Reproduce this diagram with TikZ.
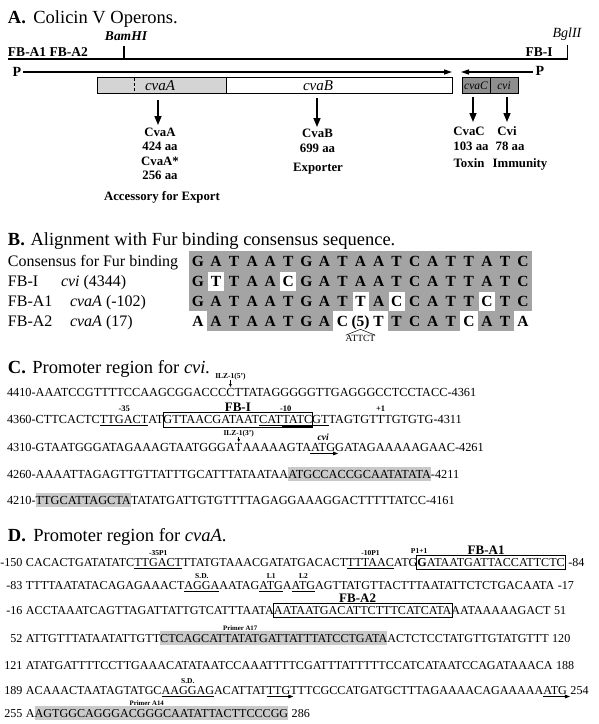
\documentclass[tikz,border=0pt]{standalone}
\usepackage{fontspec}
\setmainfont{Liberation Serif}
\usetikzlibrary{arrows.meta,calc}
\definecolor{boxA}{HTML}{D4D4D4}
\definecolor{boxC}{HTML}{8E8E8E}
\definecolor{furgrey}{HTML}{A4A4A4}
\definecolor{hlgrey}{HTML}{C9C9C9}
\begin{document}
\begin{tikzpicture}[x=1pt,y=-1pt,
  every node/.style={inner sep=0pt,outer sep=0pt},
  titl/.style={anchor=base west,font=\fontsize{18.5}{20}\selectfont},
  mapbf/.style={font=\bfseries\fontsize{13.5}{15}\selectfont},
  thickline/.style={line width=1.5pt},
  parrow/.style={line width=1.4pt,-{Triangle[length=8pt,width=5pt]}},
  darrow/.style={line width=1.5pt,-{Triangle[length=9pt,width=7pt]}},
  gbox/.style={draw,line width=0.8pt,minimum height=16pt},
  plab/.style={anchor=base,font=\bfseries\fontsize{12.8}{14}\selectfont},
  rowlab/.style={anchor=base west,font=\fontsize{16}{18}\selectfont},
  gl/.style={anchor=base,font=\bfseries\fontsize{15.5}{17}\selectfont},
  sq/.style={anchor=base west,text height=8pt,text depth=0pt},
  sqC/.style={sq,font=\fontsize{12.3}{14}\selectfont},
  sqD/.style={sq,font=\fontsize{12.1}{14}\selectfont},
  hlC/.style={sqC,fill=hlgrey,inner ysep=2pt,text height=9pt,text depth=1pt},
  hlD/.style={sqD,fill=hlgrey,inner ysep=2pt,text height=9pt,text depth=1pt},
  numD/.style={anchor=base east,font=\fontsize{12.1}{14}\selectfont},
  ulpath/.style={line width=0.8pt},
  seqbox/.style={line width=0.8pt},
  labC/.style={anchor=base,font=\bfseries\fontsize{8.5}{10}\selectfont},
  labFB/.style={anchor=base,font=\bfseries\fontsize{13}{14}\selectfont},
  labI/.style={anchor=base,font=\bfseries\fontsize{7.5}{8}\selectfont},
  labS/.style={anchor=base,font=\bfseries\fontsize{7.5}{8}\selectfont},
  labT/.style={anchor=base,font=\bfseries\fontsize{6.8}{8}\selectfont},
  smarrow/.style={line width=0.6pt,-{Triangle[length=3pt,width=2.5pt]}},
  ularrow/.style={line width=0.8pt,-{Triangle[length=5pt,width=3.5pt]}}
]
\useasboundingbox (0,0) rectangle (599,724);
\fill[white] (0,0) rectangle (599,724);

% ---------------- A ----------------
\node[titl] (tA) at (8,23) {\textbf{A.}\hspace{0.4em}Colicin V Operons.};
\node[anchor=base,font=\bfseries\itshape\fontsize{13.5}{15}\selectfont] (bam) at (126,40.5) {BamHI};
\node[mapbf,anchor=base west] (fba) at (8,56) {FB-A1 FB-A2};
\node[mapbf,anchor=base] (fbi) at (539,56) {FB-I};
\node[anchor=base,font=\itshape\fontsize{14}{15}\selectfont] (bgl) at (567,37.5) {BglII};
\coordinate (tl0) at (8,59);
\coordinate (tl1) at (567.5,59);
\coordinate (tl2) at (567.5,45);
\draw[thickline] (tl0) -- (tl1) -- (tl2);
\coordinate (bm0) at (124,59);
\coordinate (bm1) at (124,45.5);
\draw[thickline] (bm0) -- (bm1);
\node[font=\bfseries\fontsize{14}{15}\selectfont] (pl) at (17,71.5) {P};
\coordinate (pl0) at (23,72);
\coordinate (pl1) at (452,72);
\draw[parrow] (pl0) -- (pl1);
\node[font=\bfseries\fontsize{14}{15}\selectfont] (pr) at (540,70.5) {P};
\coordinate (pr0) at (533,72);
\coordinate (pr1) at (461,72);
\draw[parrow] (pr0) -- (pr1);

\node[gbox,fill=boxA,minimum width=129pt] (gA) at (161.5,85.5) {};
\node[gbox,fill=white,minimum width=226pt] (gB) at (339,85.5) {};
\node[gbox,fill=boxC,minimum width=28pt] (gC) at (476,85.5) {};
\node[gbox,fill=boxC,minimum width=28pt] (gI) at (504,85.5) {};
\coordinate (dA0) at (134,78);
\coordinate (dA1) at (134,93);
\draw[densely dashed,line width=0.5pt] (dA0) -- (dA1);
\node[anchor=base,font=\itshape\fontsize{15}{16}\selectfont] (nA) at (160,90.5) {cvaA};
\node[anchor=base,font=\itshape\fontsize{15}{16}\selectfont] (nB) at (318,90.5) {cvaB};
\node[anchor=base,font=\itshape\fontsize{11.5}{12}\selectfont] (nC) at (476,89.5) {cvaC};
\node[anchor=base,font=\itshape\fontsize{11.5}{12}\selectfont] (nI) at (504,89.5) {cvi};

\coordinate (aA0) at (158,100);
\coordinate (aA1) at (158,125);
\coordinate (aB0) at (317,98);
\coordinate (aB1) at (317,127);
\coordinate (aC0) at (473,97);
\coordinate (aC1) at (473,122);
\coordinate (aI0) at (507,97);
\coordinate (aI1) at (507,122);
\draw[darrow] (aA0) -- (aA1);
\draw[darrow] (aB0) -- (aB1);
\draw[darrow] (aC0) -- (aC1);
\draw[darrow] (aI0) -- (aI1);

\node[plab] (pA1) at (160,136.5) {CvaA};
\node[plab] (pA2) at (160,150.5) {424 aa};
\node[plab] (pA3) at (160,165) {CvaA*};
\node[plab] (pA4) at (160,179) {256 aa};
\node[plab] (pA5) at (162,200.5) {Accessory for Export};
\node[plab] (pB1) at (317.5,137.5) {CvaB};
\node[plab] (pB2) at (317.5,152) {699 aa};
\node[plab] (pB3) at (318,171.5) {Exporter};
\node[plab] (pC1) at (469,135.5) {CvaC};
\node[plab] (pC2) at (471,150.5) {103 aa};
\node[plab] (pC3) at (469,167.5) {Toxin};
\node[plab] (pI1) at (507,135.5) {Cvi};
\node[plab] (pI2) at (510,150.5) {78 aa};
\node[plab] (pI3) at (520,167.5) {Immunity};

% ---------------- B ----------------
\node[titl] (tB) at (8,245) {\textbf{B.}\hspace{0.3em}Alignment with Fur binding consensus sequence.};
\node[rowlab] (rl1) at (8,266.5) {Consensus for Fur binding};
\node[rowlab] (rl2) at (8,286.5) {FB-I};
\node[rowlab] (rl2b) at (61,286.5) {\textit{cvi} (4344)};
\node[rowlab] (rl3) at (8,306.5) {FB-A1};
\node[rowlab] (rl3b) at (70,306.5) {\textit{cvaA} (-102)};
\node[rowlab] (rl4) at (8,326.5) {FB-A2};
\node[rowlab] (rl4b) at (70,326.5) {\textit{cvaA} (17)};

\fill[furgrey] (189,251) rectangle (532.1,311);
\foreach \c/\r in {2/2,6/2,10/3,12/3,17/3}
  \fill[white] ({189+(\c-1)*18.06+1},{251+(\r-1)*20+0.5}) rectangle ++(16.06,19);
\foreach \a/\b in {2/8,12/15,17/18}
  \fill[furgrey] ({189+(\a-1)*18.06},311) rectangle ({189+\b*18.06},331);
\foreach \ch [count=\i] in {G,A,T,A,A,T,G,A,T,A,A,T,C,A,T,T,A,T,C}
  \node[gl] (ra\i) at ({198+(\i-1)*18.06},266.5) {\ch};
\foreach \ch [count=\i] in {G,T,T,A,A,C,G,A,T,A,A,T,C,A,T,T,A,T,C}
  \node[gl] (rb\i) at ({198+(\i-1)*18.06},286.5) {\ch};
\foreach \ch [count=\i] in {G,A,T,A,A,T,G,A,T,T,A,C,C,A,T,T,C,T,C}
  \node[gl] (rc\i) at ({198+(\i-1)*18.06},306.5) {\ch};
\foreach \ch [count=\i] in {A,A,T,A,A,T,G,A,C,{(5)},T,T,C,A,T,C,A,T,A}
  \node[gl] (rd\i) at ({198+(\i-1)*18.06},326.5) {\ch};
\node[anchor=base,font=\fontsize{9.5}{10}\selectfont] (ins) at (360.5,341.5) {ATTCT};
\draw[line width=0.5pt] (ins.north west) -- ([yshift=0.5pt]rd10.south) -- (ins.north east);

% ---------------- C ----------------
\node[titl] (tC) at (8,373) {\textbf{C.}\hspace{0.35em}Promoter region for \textit{cvi.}};
% line 1
\node[sqC] (c1a) at (7,396) {4410-AAATCCGTTTTCCAAGCGGACCC};
\node[sqC] (c1b) at (c1a.base east) {C};
\node[sqC] (c1c) at (c1b.base east) {TTATAGGGGGTTGAGGGCCTCCTACC-4361};
\node[labI] (ilz5) at ([yshift=18pt]c1b.base) {ILZ-1(5')};
\draw[smarrow] ([yshift=-0.5pt]ilz5.south) -- ([yshift=1pt]c1b.north);
% line 2
\node[sqC] (c2a) at (7,423) {4360-CTTCACTC};
\node[sqC] (c2b) at (c2a.base east) {TTGACT};
\node[sqC] (c2c) at (c2b.base east) {AT};
\node[sqC] (c2d) at (c2c.base east) {GTTAACGATAAT};
\node[sqC] (c2e) at (c2d.base east) {CAT};
\node[sqC] (c2f) at (c2e.base east) {TATC};
\node[sqC] (c2g) at (c2f.base east) {GT};
\node[sqC] (c2h) at (c2g.base east) {TAGTGT};
\node[sqC] (c2i) at (c2h.base east) {T};
\node[sqC] (c2j) at (c2i.base east) {TGTGTG-4311};
\draw[ulpath] ([yshift=-2pt]c2b.base west) -- ([yshift=-2pt]c2b.base east);
\draw[ulpath] ([yshift=-2pt]c2e.base west) -- ([yshift=-2pt]c2g.base east);
\draw[ulpath] ([yshift=-3.6pt]c2f.base west) -- ([yshift=-3.6pt]c2f.base east);
\draw[seqbox] ([xshift=-0.5pt,yshift=-4.5pt]c2d.base west) rectangle ([xshift=0.5pt,yshift=10.5pt]c2f.base east);
\coordinate (fbIc) at ($(c2d.base west)!0.5!(c2f.base east)$);
\coordinate (m10c) at ($(c2e.base west)!0.5!(c2f.base east)$);
\node[labC] (m35) at ([yshift=11.5pt]c2b.base) {-35};
\node[labFB] (fbIlab) at ([yshift=12pt]fbIc) {FB-I};
\node[labC] (m10) at ([yshift=11.5pt]m10c) {-10};
\node[labC] (pp1) at ([yshift=11.5pt]c2i.base) {+1};
% line 3
\node[sqC] (c3a) at (7,451) {4310-GTAATGGGATAGAAAGTAATGGGA};
\node[sqC] (c3b) at (c3a.base east) {T};
\node[sqC] (c3c) at (c3b.base east) {AAAAAGTA};
\node[sqC] (c3d) at (c3c.base east) {ATG};
\node[sqC] (c3e) at (c3d.base east) {GATAGAAAAAGAAC-4261};
\node[labI] (ilz3) at ([yshift=16pt]c3b.base) {ILZ-1(3')};
\draw[smarrow] ([yshift=-0.5pt]ilz3.south) -- ([yshift=1pt]c3b.north);
\node[anchor=base,font=\bfseries\itshape\fontsize{9.5}{10}\selectfont] (cvil) at ([yshift=11pt]c3d.base) {cvi};
\draw[ularrow] ([xshift=-1pt,yshift=-2.5pt]c3d.base west) -- ([xshift=3pt,yshift=-2.5pt]c3d.base east);
% line 4
\node[sqC] (c4a) at (7,478) {4260-AAAATTAGAGTTGTTATTTGCATTTATAATAA};
\node[hlC] (c4b) at (c4a.base east) {ATGCCACCGCAATATATA};
\node[sqC] (c4c) at (c4b.base east) {-4211};
% line 5
\node[sqC] (c5a) at (7,504) {4210-};
\node[hlC] (c5b) at (c5a.base east) {TTGCATTAGCTA};
\node[sqC] (c5c) at (c5b.base east) {TATATGATTGTGTTTTAGAGGAAAGGACTTTTTATCC-4161};

% ---------------- D ----------------
\node[titl] (tD) at (8,541) {\textbf{D.}\hspace{0.4em}Promoter region for \textit{cvaA}.};
% line 1
\node[numD] (d1n) at (22.5,566) {-150};
\node[sqD] (d1a) at (26,566) {CACACTGATATATC};
\node[sqD] (d1b) at (d1a.base east) {TTGACT};
\node[sqD] (d1c) at (d1b.base east) {TTATGTAAACGATATGACACT};
\node[sqD] (d1d) at (d1c.base east) {TTTAAC};
\node[sqD] (d1e) at (d1d.base east) {ATG};
\node[sqD] (d1f) at (d1e.base east) {\textbf{G}};
\node[sqD] (d1g) at (d1f.base east) {ATAATGATTACCATTCTC};
\node[sqD] (d1h) at ([xshift=3.5pt]d1g.base east) {-84};
\draw[ulpath] ([yshift=-2pt]d1b.base west) -- ([yshift=-2pt]d1b.base east);
\draw[ulpath] ([yshift=-2pt]d1d.base west) -- ([yshift=-2pt]d1d.base east);
\draw[seqbox] ([xshift=-1pt,yshift=-3pt]d1f.base west) rectangle ([xshift=1pt,yshift=11pt]d1g.base east);
\coordinate (fa1c) at ($(d1f.base west)!0.5!(d1g.base east)$);
\node[labS] (l35p) at ([yshift=10.5pt]d1b.base) {-35P1};
\node[labS] (l10p) at ([yshift=10.5pt]d1d.base) {-10P1};
\node[labS] (lp11) at ([xshift=-3pt,yshift=12.5pt]d1f.base) {P1+1};
\node[labFB] (fa1) at ([xshift=-5pt,yshift=12pt]fa1c) {FB-A1};
% line 2
\node[numD] (d2n) at (22.5,589) {-83};
\node[sqD] (d2a) at (26,589) {TTTTAATATACAGAGAAACT};
\node[sqD] (d2b) at (d2a.base east) {AGGA};
\node[sqD] (d2c) at (d2b.base east) {AATAG};
\node[sqD] (d2d) at (d2c.base east) {ATG};
\node[sqD] (d2e) at (d2d.base east) {A};
\node[sqD] (d2f) at (d2e.base east) {ATG};
\node[sqD] (d2g) at (d2f.base east) {AGTTATGTTACTTTAATATTCTCTGACAATA};
\node[sqD] (d2h) at ([xshift=3.5pt]d2g.base east) {-17};
\draw[ulpath] ([yshift=-2pt]d2b.base west) -- ([yshift=-2pt]d2b.base east);
\draw[ulpath] ([yshift=-2pt]d2d.base west) -- ([yshift=-2pt]d2d.base east);
\draw[ulpath] ([yshift=-2pt]d2f.base west) -- ([yshift=-2pt]d2f.base east);
\node[labS] (lsd1) at ([yshift=10.5pt]d2b.base) {S.D.};
\node[labS] (ll1) at ([yshift=10.5pt]d2d.base) {L1};
\node[labS] (ll2) at ([yshift=10.5pt]d2f.base) {L2};
% line 3
\node[numD] (d3n) at (22.5,614) {-16};
\node[sqD] (d3a) at (26,614) {ACCTAAATCAGTTAGATTATTGTCATTTAATA};
\node[sqD] (d3b) at (d3a.base east) {AATAATGACATTCTTTCATCATA};
\node[sqD] (d3c) at (d3b.base east) {AATAAAAAGACT};
\node[sqD] (d3d) at ([xshift=3.5pt]d3c.base east) {51};
\draw[seqbox] ([xshift=-0.5pt,yshift=-3pt]d3b.base west) rectangle ([xshift=0.5pt,yshift=11pt]d3b.base east);
\node[labFB] (fa2) at ([xshift=-5pt,yshift=12pt]d3b.base) {FB-A2};
% line 4
\node[numD] (d4n) at (22.5,642) {52};
\node[sqD] (d4a) at (26,642) {ATTGTTTATAATATTGTT};
\node[hlD] (d4b) at (d4a.base east) {CTCAGCATTATATGATTATTTATCCTGATA};
\node[sqD] (d4c) at (d4b.base east) {ACTCTCCTATGTTGTATGTTT};
\node[sqD] (d4d) at ([xshift=3.5pt]d4c.base east) {120};
\node[labT] (pa17) at ([xshift=80pt,yshift=12pt]d4b.base west) {Primer A17};
% line 5
\node[numD] (d5n) at (22.5,669) {121};
\node[sqD] (d5a) at (26,669) {ATATGATTTTCCTTGAAACATATAATCCAAATTTTCGATTTATTTTTCCATCATAATCCAGATAAACA};
\node[sqD] (d5d) at ([xshift=3.5pt]d5a.base east) {188};
% line 6
\node[numD] (d6n) at (22.5,694) {189};
\node[sqD] (d6a) at (26,694) {ACAAACTAATAGTATGC};
\node[sqD] (d6b) at (d6a.base east) {AAGGAG};
\node[sqD] (d6c) at (d6b.base east) {ACATTAT};
\node[sqD] (d6d) at (d6c.base east) {TTG};
\node[sqD] (d6e) at (d6d.base east) {TTTCGCCATGATGCTTTAGAAAACAGAAAAA};
\node[sqD] (d6f) at (d6e.base east) {ATG};
\node[sqD] (d6g) at ([xshift=3.5pt]d6f.base east) {254};
\draw[ulpath] ([yshift=-2pt]d6b.base west) -- ([yshift=-2pt]d6b.base east);
\draw[ularrow] ([yshift=-2.5pt]d6d.base west) -- ([xshift=3pt,yshift=-2.5pt]d6d.base east);
\draw[ularrow] ([yshift=-2.5pt]d6f.base west) -- ([xshift=3pt,yshift=-2.5pt]d6f.base east);
\node[labS] (lsd2) at ([yshift=10.5pt]d6b.base) {S.D.};
% line 7
\node[numD] (d7n) at (22.5,717) {255};
\node[sqD] (d7a) at (26,717) {A};
\node[hlD] (d7b) at (d7a.base east) {AGTGGCAGGGACGGGCAATATTACTTCCCGG};
\node[sqD] (d7c) at ([xshift=3.5pt]d7b.base east) {286};
\node[labT] (pa14) at ([xshift=112pt,yshift=12pt]d7b.base west) {Primer A14};
\end{tikzpicture}
\end{document}
